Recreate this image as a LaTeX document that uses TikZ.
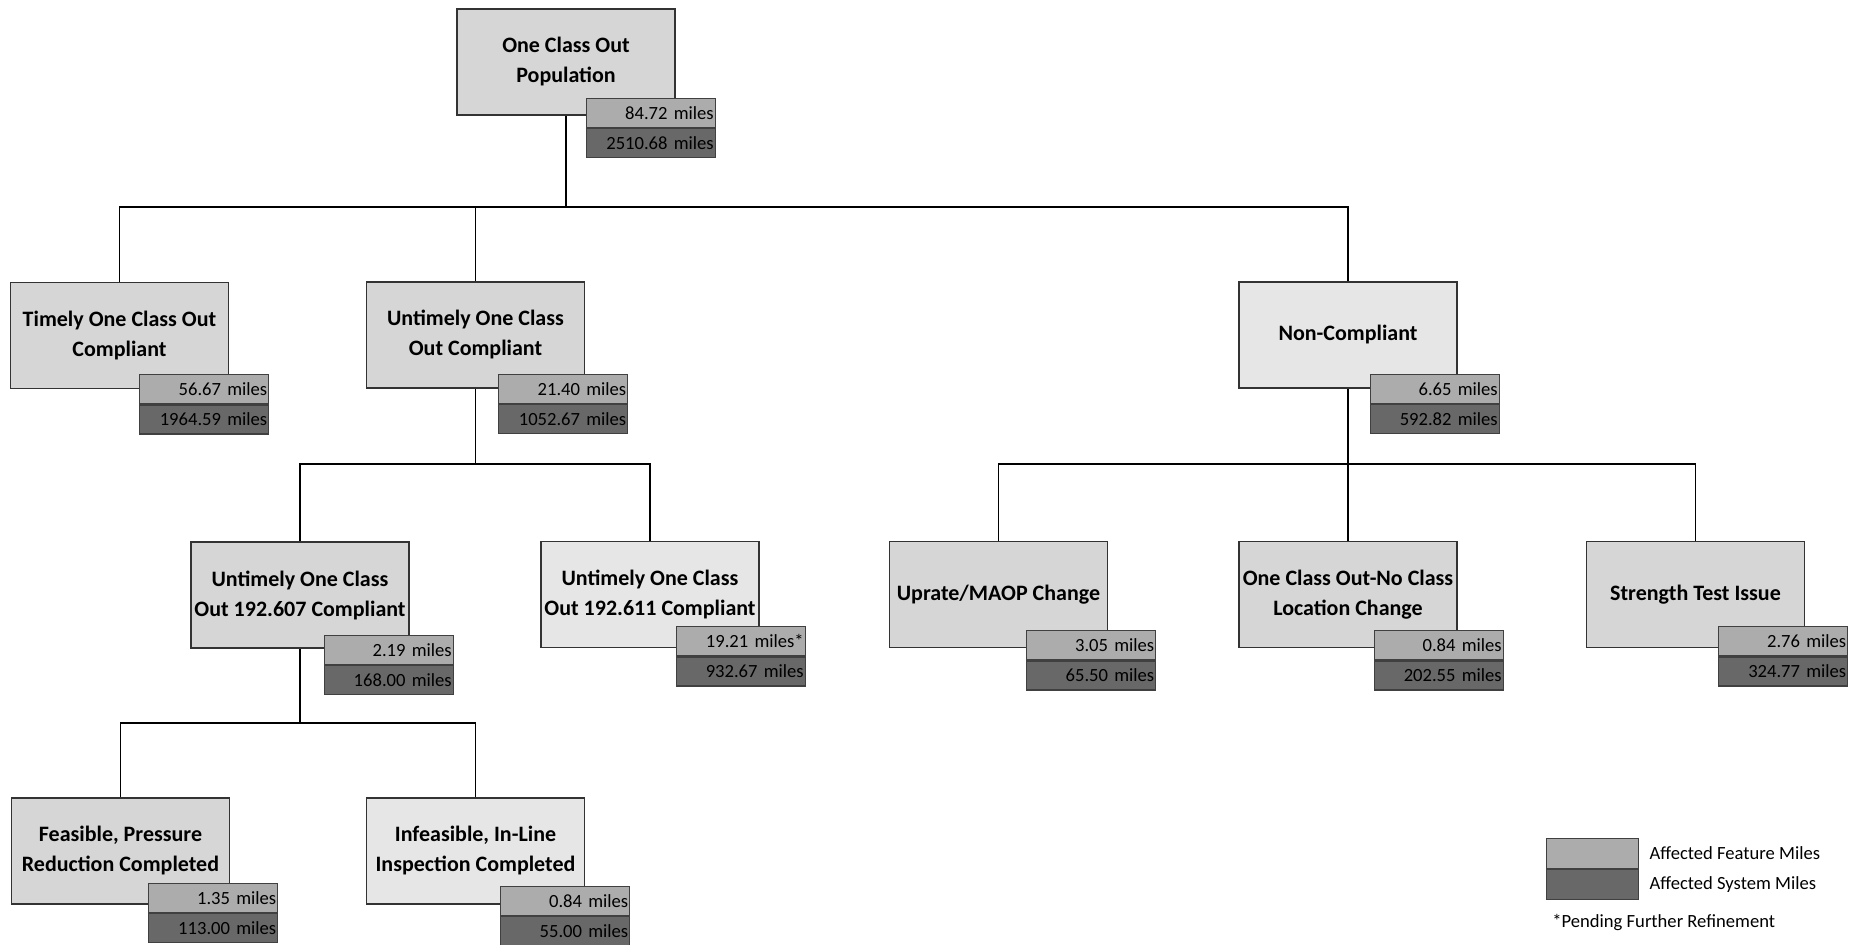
\documentclass[tikz,border=0pt]{standalone}
\usepackage{fontspec}
\setmainfont{Carlito}
\usepackage{tikz}
\usetikzlibrary{positioning}
\definecolor{boxgray}{RGB}{214,214,214}
\definecolor{boxlight}{RGB}{230,230,230}
\definecolor{featgray}{RGB}{172,172,172}
\definecolor{sysgray}{RGB}{104,104,104}
\tikzstyle{box} = [rectangle, draw=black!80, line width=0.8pt, fill=boxgray, minimum width=109pt, minimum height=53pt, inner sep=0pt, align=center, font=\fontsize{11}{15}\selectfont\bfseries]
\tikzstyle{lightbox} = [box, fill=boxlight]
\tikzstyle{feat} = [rectangle, draw=black!75, line width=0.6pt, fill=featgray, minimum height=14.5pt, text width=63pt, inner sep=0.75pt, align=right, font=\fontsize{9.3}{11}\selectfont]
\tikzstyle{sys} = [feat, fill=sysgray]
\tikzstyle{swatch} = [rectangle, draw=black!75, line width=0.6pt, minimum width=46pt, minimum height=15pt, inner sep=0pt]
\tikzstyle{keytext} = [inner sep=0pt, font=\fontsize{9.3}{11}\selectfont]
\tikzstyle{link} = [line width=0.6pt, -]

\begin{document}
\begin{tikzpicture}[x=0.5pt, y=-0.5pt, node distance=0pt]
                                \useasboundingbox (0,0) rectangle (1864,945);
                                % boxes
                                \node (root) [box] at (566,62) {One Class Out\\Population};
                                \node (timely) [box] at (119.5,335.5) {Timely One Class Out\\Compliant};
                                \node (untimely) [box] at (475.5,335) {Untimely One Class\\Out Compliant};
                                \node (noncomp) [lightbox] at (1348,335) {Non-Compliant};
                                \node (b607) [box] at (300,595) {Untimely One Class\\Out 192.607 Compliant};
                                \node (b611) [lightbox] at (650,594.5) {Untimely One Class\\Out 192.611 Compliant};
                                \node (uprate) [box] at (998.5,594.5) {Uprate/MAOP Change};
                                \node (noclass) [box] at (1348,594.5) {One Class Out-No Class\\Location Change};
                                \node (strength) [box] at (1695.5,594.5) {Strength Test Issue};
                                \node (feasible) [box] at (120.5,851) {Feasible, Pressure\\Reduction Completed};
                                \node (infeasible) [lightbox] at (475.5,851) {Infeasible, In-Line\\Inspection Completed};
                                % miles
                                \node (root-f) [feat, anchor=north east] at ([xshift=20pt, yshift=9pt]root.south east) {84.72 miles};
                                \node (root-s) [sys, below=of root-f] {2510.68 miles};
                                \node (timely-f) [feat, anchor=north east] at ([xshift=20pt, yshift=7.5pt]timely.south east) {56.67 miles};
                                \node (timely-s) [sys, below=of timely-f] {1964.59 miles};
                                \node (untimely-f) [feat, anchor=north east] at ([xshift=21.5pt, yshift=7.5pt]untimely.south east) {21.40 miles};
                                \node (untimely-s) [sys, below=of untimely-f] {1052.67 miles};
                                \node (noncomp-f) [feat, anchor=north east] at ([xshift=21pt, yshift=7.5pt]noncomp.south east) {6.65 miles};
                                \node (noncomp-s) [sys, below=of noncomp-f] {592.82 miles};
                                \node (b607-f) [feat, anchor=north east] at ([xshift=22pt, yshift=7pt]b607.south east) {2.19 miles};
                                \node (b607-s) [sys, below=of b607-f] {168.00 miles};
                                \node (b611-f) [feat, anchor=north east] at ([xshift=23pt, yshift=11pt]b611.south east) {19.21 miles*};
                                \node (b611-s) [sys, below=of b611-f] {932.67 miles};
                                \node (uprate-f) [feat, anchor=north east] at ([xshift=24pt, yshift=9pt]uprate.south east) {3.05 miles};
                                \node (uprate-s) [sys, below=of uprate-f] {65.50 miles};
                                \node (noclass-f) [feat, anchor=north east] at ([xshift=23pt, yshift=9pt]noclass.south east) {0.84 miles};
                                \node (noclass-s) [sys, below=of noclass-f] {202.55 miles};
                                \node (strength-f) [feat, anchor=north east] at ([xshift=21.5pt, yshift=11pt]strength.south east) {2.76 miles};
                                \node (strength-s) [sys, below=of strength-f] {324.77 miles};
                                \node (feasible-f) [feat, anchor=north east] at ([xshift=24pt, yshift=11pt]feasible.south east) {1.35 miles};
                                \node (feasible-s) [sys, below=of feasible-f] {113.00 miles};
                                \node (infeasible-f) [feat, anchor=north east] at ([xshift=22.5pt, yshift=9.5pt]infeasible.south east) {0.84 miles};
                                \node (infeasible-s) [sys, below=of infeasible-f] {55.00 miles};
                                % links
                                \coordinate (rootbus) at (566,207);
                                \coordinate (midbus) at (475.5,464);
                                \coordinate (rightbus) at (1348,464);
                                \coordinate (lowbus) at (300,723);
                                \draw [link] (root) -- (rootbus);
                                \draw [link] (timely) |- (rootbus) -| (noncomp);
                                \draw [link] (untimely) -- (untimely |- rootbus);
                                \draw [link] (b607) |- (midbus) -| (b611);
                                \draw [link] (untimely) -- (midbus);
                                \draw [link] (uprate) |- (rightbus) -| (strength);
                                \draw [link] (noncomp) -- (noclass);
                                \draw [link] (feasible) |- (lowbus) -| (infeasible);
                                \draw [link] (b607) -- (lowbus);
                                % key
                                \node (keyf) [swatch, fill=featgray, anchor=north west] at (1546,838) {};
                                \node (keys) [swatch, fill=sysgray, below=of keyf] {};
                                \node (keyf-text) [keytext, right=5pt of keyf] {Affected Feature Miles};
                                \node (keys-text) [keytext, right=5pt of keys] {Affected System Miles};
                                \node (pending) [keytext, anchor=west] at (1552,922) {*Pending Further Refinement};
                            \end{tikzpicture}
\end{document}
